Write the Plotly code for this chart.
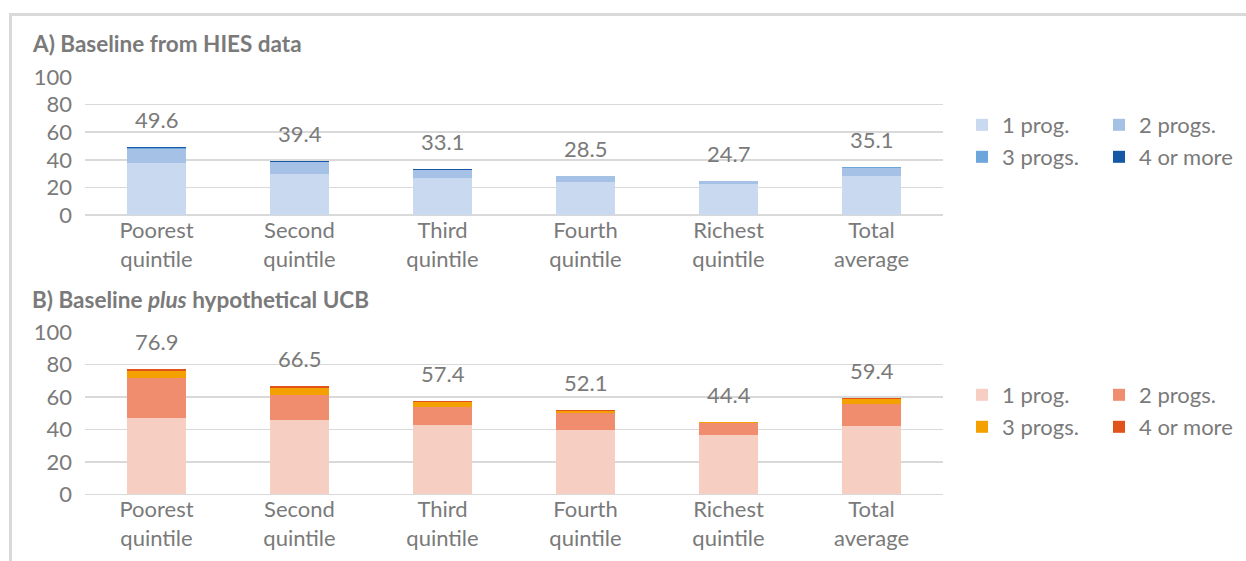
import plotly.graph_objects as go

W, H = 1246, 561

categories = ["Poorest<br>quintile", "Second<br>quintile", "Third<br>quintile",
              "Fourth<br>quintile", "Richest<br>quintile", "Total<br>average"]
series_names = ["1 prog.", "2 progs.", "3 progs.", "4 or more"]

# Panel A: Baseline from HIES data
a_1prog = [37.8, 29.9, 27.0, 24.1, 22.7, 28.5]
a_2progs = [10.3, 8.3, 5.3, 3.9, 1.7, 5.6]
a_3progs = [0.5, 0.4, 0.3, 0.4, 0.25, 0.4]
a_4more = [1.0, 0.8, 0.5, 0.1, 0.05, 0.6]
a_totals = [49.6, 39.4, 33.1, 28.5, 24.7, 35.1]

# Panel B: Baseline plus hypothetical UCB
b_1prog = [47.0, 45.7, 42.6, 39.6, 36.5, 42.0]
b_2progs = [24.8, 15.2, 11.1, 10.2, 7.4, 13.8]
b_3progs = [4.1, 4.5, 3.1, 1.6, 0.3, 3.0]
b_4more = [1.0, 1.1, 0.6, 0.7, 0.2, 0.6]
b_totals = [76.9, 66.5, 57.4, 52.1, 44.4, 59.4]

y_ticks = [0, 20, 40, 60, 80, 100]

blues = ["#C9D9EF", "#A6C1E6", "#6CA6DB", "#1558A6"]
oranges = ["#F6CEC2", "#EF8D6E", "#F4A100", "#E0531A"]

TXT = "#7A7A7A"
GRID = "#D9D9D9"
FONT = "Lato"

def px_x(p):
    return p / W

def px_y(p):
    return 1 - p / H

fig = go.Figure()

panels = [
    ("x", "y", [a_1prog, a_2progs, a_3progs, a_4more], a_totals, blues, ["legend", "legend2"]),
    ("x2", "y2", [b_1prog, b_2progs, b_3progs, b_4more], b_totals, oranges, ["legend3", "legend4"]),
]

for xa, ya, vals, totals, cols, legs in panels:
    for i, (name, v, c) in enumerate(zip(series_names, vals, cols)):
        fig.add_trace(go.Bar(
            x=categories, y=v, name=name, marker=dict(color=c, line=dict(width=0)),
            xaxis=xa, yaxis=ya, legend=legs[i // 2], hoverinfo="skip",
        ))
    for cat, t in zip(categories, totals):
        fig.add_annotation(
            x=cat, y=t, xref=xa, yref=ya, text=f"{t:.1f}", showarrow=False,
            yanchor="bottom", yshift=12, font=dict(family=FONT, size=22, color=TXT),
        )

x_dom = [px_x(85), px_x(943)]
axis_common = dict(showgrid=False, showline=False, ticks="", fixedrange=True,
                   tickfont=dict(family=FONT, size=22, color=TXT))
yaxis_common = dict(range=[0, 100], tickvals=y_ticks, showgrid=True, gridcolor=GRID, gridwidth=1.5,
                    zeroline=True, zerolinecolor=GRID, zerolinewidth=1.5, showline=False, ticks="",
                    ticklabelstandoff=12, tickfont=dict(family=FONT, size=22, color=TXT), fixedrange=True)

legend_common = dict(orientation="h", xanchor="left", yanchor="middle", entrywidth=92,
                     font=dict(family=FONT, size=22, color=TXT), bgcolor="rgba(0,0,0,0)",
                     itemclick=False, itemdoubleclick=False, traceorder="normal")

LX = 962
fig.update_layout(
    width=W, height=H,
    margin=dict(l=0, r=0, t=0, b=0, autoexpand=False),
    paper_bgcolor="white", plot_bgcolor="white",
    barmode="stack", bargap=0.59,
    font=dict(family=FONT, color=TXT),
    showlegend=True,
    xaxis=dict(domain=x_dom, anchor="y", **axis_common),
    yaxis=dict(domain=[px_y(215), px_y(77)], anchor="x", **yaxis_common),
    xaxis2=dict(domain=x_dom, anchor="y2", **axis_common),
    yaxis2=dict(domain=[px_y(494.3), px_y(331.8)], anchor="x2", **yaxis_common),
    legend=dict(x=px_x(LX), y=px_y(125), **legend_common),
    legend2=dict(x=px_x(LX), y=px_y(157), **legend_common),
    legend3=dict(x=px_x(LX), y=px_y(395), **legend_common),
    legend4=dict(x=px_x(LX), y=px_y(427), **legend_common),
)

fig.add_annotation(x=px_x(30), y=px_y(43), xref="paper", yref="paper", xanchor="left", yanchor="middle",
                   text="<b>A) Baseline from HIES data</b>", showarrow=False,
                   font=dict(family=FONT, size=22.5, color=TXT))
fig.add_annotation(x=px_x(30), y=px_y(299), xref="paper", yref="paper", xanchor="left", yanchor="middle",
                   text="<b>B) Baseline <i>plus</i> hypothetical UCB</b>", showarrow=False,
                   font=dict(family=FONT, size=22.5, color=TXT))

# outer chart frame (top and left edges visible)
fig.add_shape(type="line", xref="paper", yref="paper", x0=px_x(9), x1=1, y0=px_y(14.5), y1=px_y(14.5),
              line=dict(color=GRID, width=3))
fig.add_shape(type="line", xref="paper", yref="paper", x0=px_x(10.5), x1=px_x(10.5), y0=px_y(13), y1=0,
              line=dict(color=GRID, width=3))

fig.write_html("out.html", config={"displayModeBar": False, "staticPlot": True},
               post_script="document.body.style.margin='0';document.body.style.overflow='hidden';")
